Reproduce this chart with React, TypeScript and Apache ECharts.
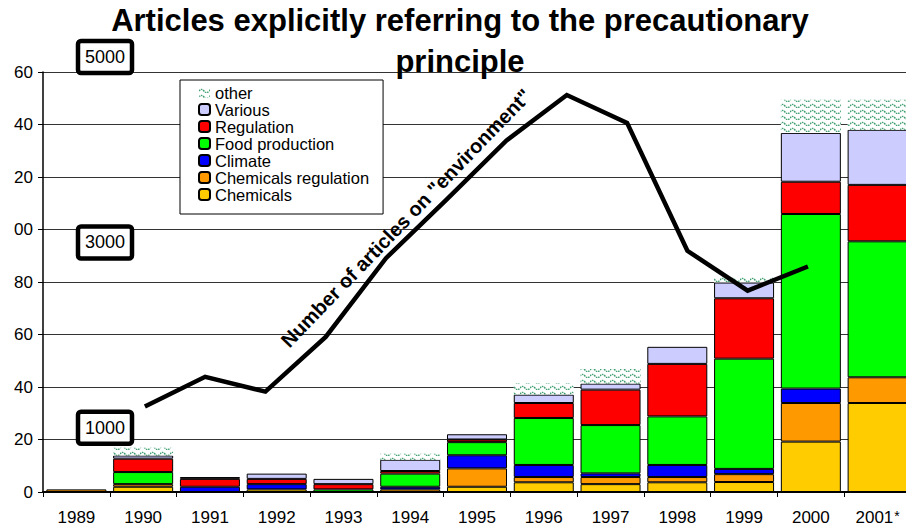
import React, { useEffect, useRef } from "react";
import * as echarts from "echarts";

const years = ["1989", "1990", "1991", "1992", "1993", "1994", "1995", "1996", "1997", "1998", "1999", "2000", "2001*"];
const chemicals = [0, 2, 0, 1, 0, 0, 2, 3.7, 3, 3.7, 3.8, 19.2, 33.9];
const chemicalsRegulation = [1, 1, 0, 0, 0, 1, 7, 2, 2.7, 2, 3, 14.7, 9.8];
const climate = [0, 0, 2, 2, 0, 1, 5, 4.6, 1.4, 4.6, 2, 5.5, 0];
const foodProduction = [0, 4.6, 0, 0, 1, 5, 5, 17.9, 18.4, 18.5, 42, 66.5, 51.8];
const regulation = [0, 5.1, 3, 2, 2, 1, 1, 5.7, 13.5, 20, 23, 12.3, 21.5];
const various = [0, 1.2, 0.7, 2, 2, 4.3, 2, 3.2, 2.3, 6.5, 6, 18.6, 21];
const other = [0, 3, 0, 0, 0, 2.3, 0, 4.2, 5.6, 0, 2.2, 12.6, 11.4];

const lineYears = [1990, 1991, 1992, 1993, 1994, 1995, 1996, 1997, 1998, 1999, 2000, 2001];
const environmentArticles = [1230, 1550, 1390, 1980, 2830, 3460, 4100, 4590, 4290, 2910, 2480, 2740];
const boxValues = [1000, 3000, 5000];

const legendOrder = ["other", "Various", "Regulation", "Food production", "Climate", "Chemicals regulation", "Chemicals"];

const FONT = "'Liberation Sans', Arial, sans-serif";

const hatchSvg =
  "<svg xmlns='http://www.w3.org/2000/svg' width='10' height='6'>" +
  "<rect width='10' height='6' fill='white'/>" +
  "<path d='M0 4 Q2.5 0.8 5 4 T10 4' fill='none' stroke='#3f9f70' stroke-width='1.4' stroke-dasharray='1.6 0.8'/>" +
  "</svg>";
const hatchUrl = "data:image/svg+xml;charset=utf-8," + encodeURIComponent(hatchSvg);

export default function App() {
  const ref = useRef<HTMLDivElement>(null);

  useEffect(() => {
    document.body.style.margin = "0";
    if (!ref.current) return;
    const chart = echarts.init(ref.current, undefined, { renderer: "svg" });

    const bar = (name: string, data: number[], color: any, border = true) => ({
      name,
      type: "bar",
      stack: "total",
      barWidth: 60,
      xAxisIndex: 0,
      yAxisIndex: 0,
      data: data.map((v) => (v === 0 ? "-" : v)),
      itemStyle: border
        ? { color, borderColor: "#000", borderWidth: 1 }
        : { color, borderWidth: 0 },
      emphasis: { disabled: true },
    });

    const option: any = {
      animation: false,
      backgroundColor: "#fff",
      textStyle: { fontFamily: FONT },
      grid: { left: 43, top: 72, width: 868, height: 420, containLabel: false, outerBoundsMode: "none" },
      legend: {
        data: legendOrder,
        orient: "vertical",
        left: 180,
        top: 80,
        padding: [4, 14, 11, 18],
        itemWidth: 11,
        itemHeight: 11,
        itemGap: 0,
        backgroundColor: "#fff",
        borderColor: "#000",
        borderWidth: 1,
        textStyle: { fontSize: 16.5, lineHeight: 16.8, color: "#000", fontFamily: FONT },
        selectedMode: false,
      },
      xAxis: [
        {
          type: "category",
          data: years,
          axisLine: { lineStyle: { color: "#000", width: 2 } },
          axisTick: { show: true, length: 5, lineStyle: { color: "#000", width: 1 } },
          axisLabel: {
            interval: 0,
            color: "#000",
            fontSize: 17,
            lineHeight: 17,
            fontFamily: FONT,
            margin: 17,
            formatter: (v: string) => (v.endsWith("*") ? v.slice(0, -1) + "{sup|*}" : v),
            rich: {
              sup: {
                fontSize: 14,
                lineHeight: 8,
                padding: [0, 0, 8, 1],
                verticalAlign: "top",
                color: "#000",
                fontFamily: FONT,
              },
            },
          },
          splitLine: { show: false },
        },
        {
          type: "value",
          min: 1988.31,
          max: 2002.71,
          show: false,
        },
      ],
      yAxis: [
        {
          type: "value",
          min: 0,
          max: 160,
          interval: 20,
          axisLine: { show: true, lineStyle: { color: "#000", width: 1.5 } },
          axisTick: { show: true, length: 5, lineStyle: { color: "#000" } },
          axisLabel: {
            color: "#000",
            fontSize: 17,
            fontFamily: FONT,
            margin: 10,
            formatter: (v: number) => (v === 0 ? "0" : String(v % 100).padStart(2, "0")),
          },
          splitLine: { show: true, lineStyle: { color: "#333", width: 1 } },
        },
        {
          type: "value",
          min: 307,
          max: 4839,
          show: false,
          splitLine: { show: false },
        },
      ],
      series: [
        bar("Chemicals", chemicals, "#FFCC00"),
        bar("Chemicals regulation", chemicalsRegulation, "#FF9900"),
        bar("Climate", climate, "#0000FF"),
        bar("Food production", foodProduction, "#00FF00"),
        bar("Regulation", regulation, "#FF0000"),
        bar("Various", various, "#CCCCFF"),
        bar("other", other, { image: hatchUrl, repeat: "repeat", imageWidth: 10, imageHeight: 6 }, false),
        {
          name: "Number of articles on environment",
          type: "line",
          xAxisIndex: 1,
          yAxisIndex: 1,
          data: lineYears.map((y, i) => [y, environmentArticles[i]]),
          symbol: "none",
          lineStyle: { color: "#000", width: 4.5, join: "miter" },
          z: 5,
          emphasis: { disabled: true },
        },
      ],
    };

    chart.setOption(option);

    const graphics: any[] = [
      {
        type: "text",
        x: 460,
        y: 20,
        z: 10,
        style: {
          text: "Articles explicitly referring to the precautionary",
          font: "bold 31px " + FONT,
          fill: "#000",
          textAlign: "center",
          textVerticalAlign: "middle",
        },
      },
      {
        type: "text",
        x: 460,
        y: 61,
        z: 10,
        style: {
          text: "principle",
          font: "bold 31px " + FONT,
          fill: "#000",
          textAlign: "center",
          textVerticalAlign: "middle",
        },
      },
      {
        type: "text",
        x: 406,
        y: 218,
        rotation: (46 * Math.PI) / 180,
        z: 10,
        style: {
          text: 'Number of articles on "environment"',
          font: "bold 20px " + FONT,
          fill: "#000",
          textAlign: "center",
          textVerticalAlign: "middle",
        },
      },
    ];

    boxValues.forEach((v) => {
      const py = chart.convertToPixel({ yAxisIndex: 1 } as any, v) as number;
      graphics.push({
        type: "group",
        x: 105,
        y: py,
        z: 20,
        children: [
          {
            type: "rect",
            shape: { x: -27, y: -16, width: 54, height: 32, r: 3 },
            style: { fill: "#fff", stroke: "#000", lineWidth: 4.5 },
          },
          {
            type: "text",
            x: 0,
            y: 0,
            style: {
              text: String(v),
              font: "18px " + FONT,
              fill: "#000",
              textAlign: "center",
              textVerticalAlign: "middle",
            },
          },
        ],
      });
    });

    chart.setOption({ graphic: graphics });

    return () => chart.dispose();
  }, []);

  return <div ref={ref} style={{ width: 906, height: 527 }} />;
}
